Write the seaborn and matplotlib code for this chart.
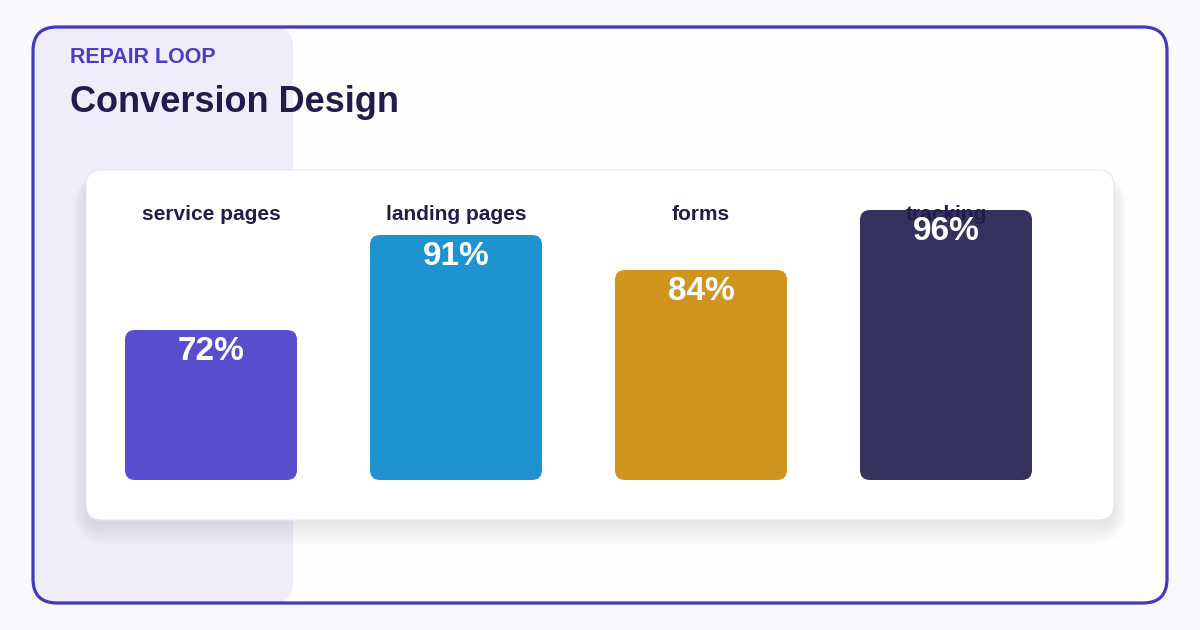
import numpy as np
import pandas as pd
import matplotlib.pyplot as plt
import seaborn as sns
from matplotlib.patches import FancyBboxPatch

# data
categories = ["service pages", "landing pages", "forms", "tracking"]
scores     = [72, 91, 84, 96]
bar_colors = ["#574ecd", "#1e93cf", "#d0951f", "#36325e"]
eyebrow    = "REPAIR LOOP"
title      = "Conversion Design"

sns.set_theme(style="white")
plt.rcParams["font.family"] = ["Liberation Sans", "DejaVu Sans"]

W, H = 1200, 630
fig = plt.figure(figsize=(12, 6.3), dpi=100)
fig.patch.set_facecolor("#f8f8fd")

# background layer in pixel coordinates (y down)
bg = fig.add_axes([0, 0, 1, 1], zorder=0)
bg.set_xlim(0, W); bg.set_ylim(H, 0); bg.axis("off")


def rbox(x0, y0, x1, y1, r, **kw):
    return FancyBboxPatch((x0, y0), x1 - x0, y1 - y0,
                          boxstyle=f"round,pad=0,rounding_size={r}", **kw)


frame = rbox(33, 27, 1167, 603, 24, fc="#fefeff", ec="none")
bg.add_patch(frame)
panel = rbox(33, 27, 293, 603, 20, fc="#efedf9", ec="none")
bg.add_patch(panel)
panel.set_clip_path(frame)
bg.add_patch(rbox(33, 27, 1167, 603, 24, fc="none", ec="#4338c0", lw=2.3))

# card with soft shadow
for i in range(12):
    g = i * 2
    bg.add_patch(rbox(86 - g * 0.6, 170 + 12 - g * 0.4, 1114 + g * 0.6, 520 + 4 + g, 16 + g,
                      fc="#1c1850", ec="none", alpha=0.006))
bg.add_patch(rbox(86, 170, 1114, 520, 16, fc="white", ec="#e6e6ef", lw=0.8))

bg.text(70, 63, eyebrow, color="#4a3fc4", fontsize=15.5, fontweight="bold", va="baseline")
bg.text(70, 112, title, color="#221c4c", fontsize=26, fontweight="bold", va="baseline")

# bar chart
ax = fig.add_axes([86 / W, 1 - 480 / H, 1028 / W, 310 / H], zorder=2)
ax.patch.set_alpha(0)
df = pd.DataFrame({"category": categories, "score": scores})
sns.barplot(data=df, x="category", y="score", hue="category", palette=bar_colors,
            width=172 / 245, saturation=1, legend=False, ax=ax)
ax.set_xlim(-0.5102, 3.6857)
ax.set_ylim(42, 104)
ax.axis("off")

# swap seaborn's square bars for rounded ones, drawn in pixel space
to_px = ax.transData + bg.transData.inverted()
y_floor = ax.get_ylim()[0]
for p in list(ax.patches):
    bx, bw, bh, fc = p.get_x(), p.get_width(), p.get_height(), p.get_facecolor()
    p.remove()
    (px0, py1), (px1, py0) = to_px.transform([(bx, y_floor), (bx + bw, bh)])
    bg.add_patch(rbox(px0, py0, px1, py1, 10, fc=fc, ec="none", zorder=3))

for i, (cat, v) in enumerate(zip(categories, scores)):
    ax.text(i, (480 - 220) / 310, cat, transform=ax.get_xaxis_transform(),
            ha="center", va="baseline", fontsize=15, fontweight="bold",
            color="#221c4c", zorder=3)
    ax.annotate(f"{v}%", (i, v), xytext=(0, -30), textcoords="offset pixels",
                ha="center", va="baseline", fontsize=24, fontweight="bold",
                color="white", zorder=4)

fig.savefig("out.png", dpi=100, facecolor=fig.get_facecolor())
